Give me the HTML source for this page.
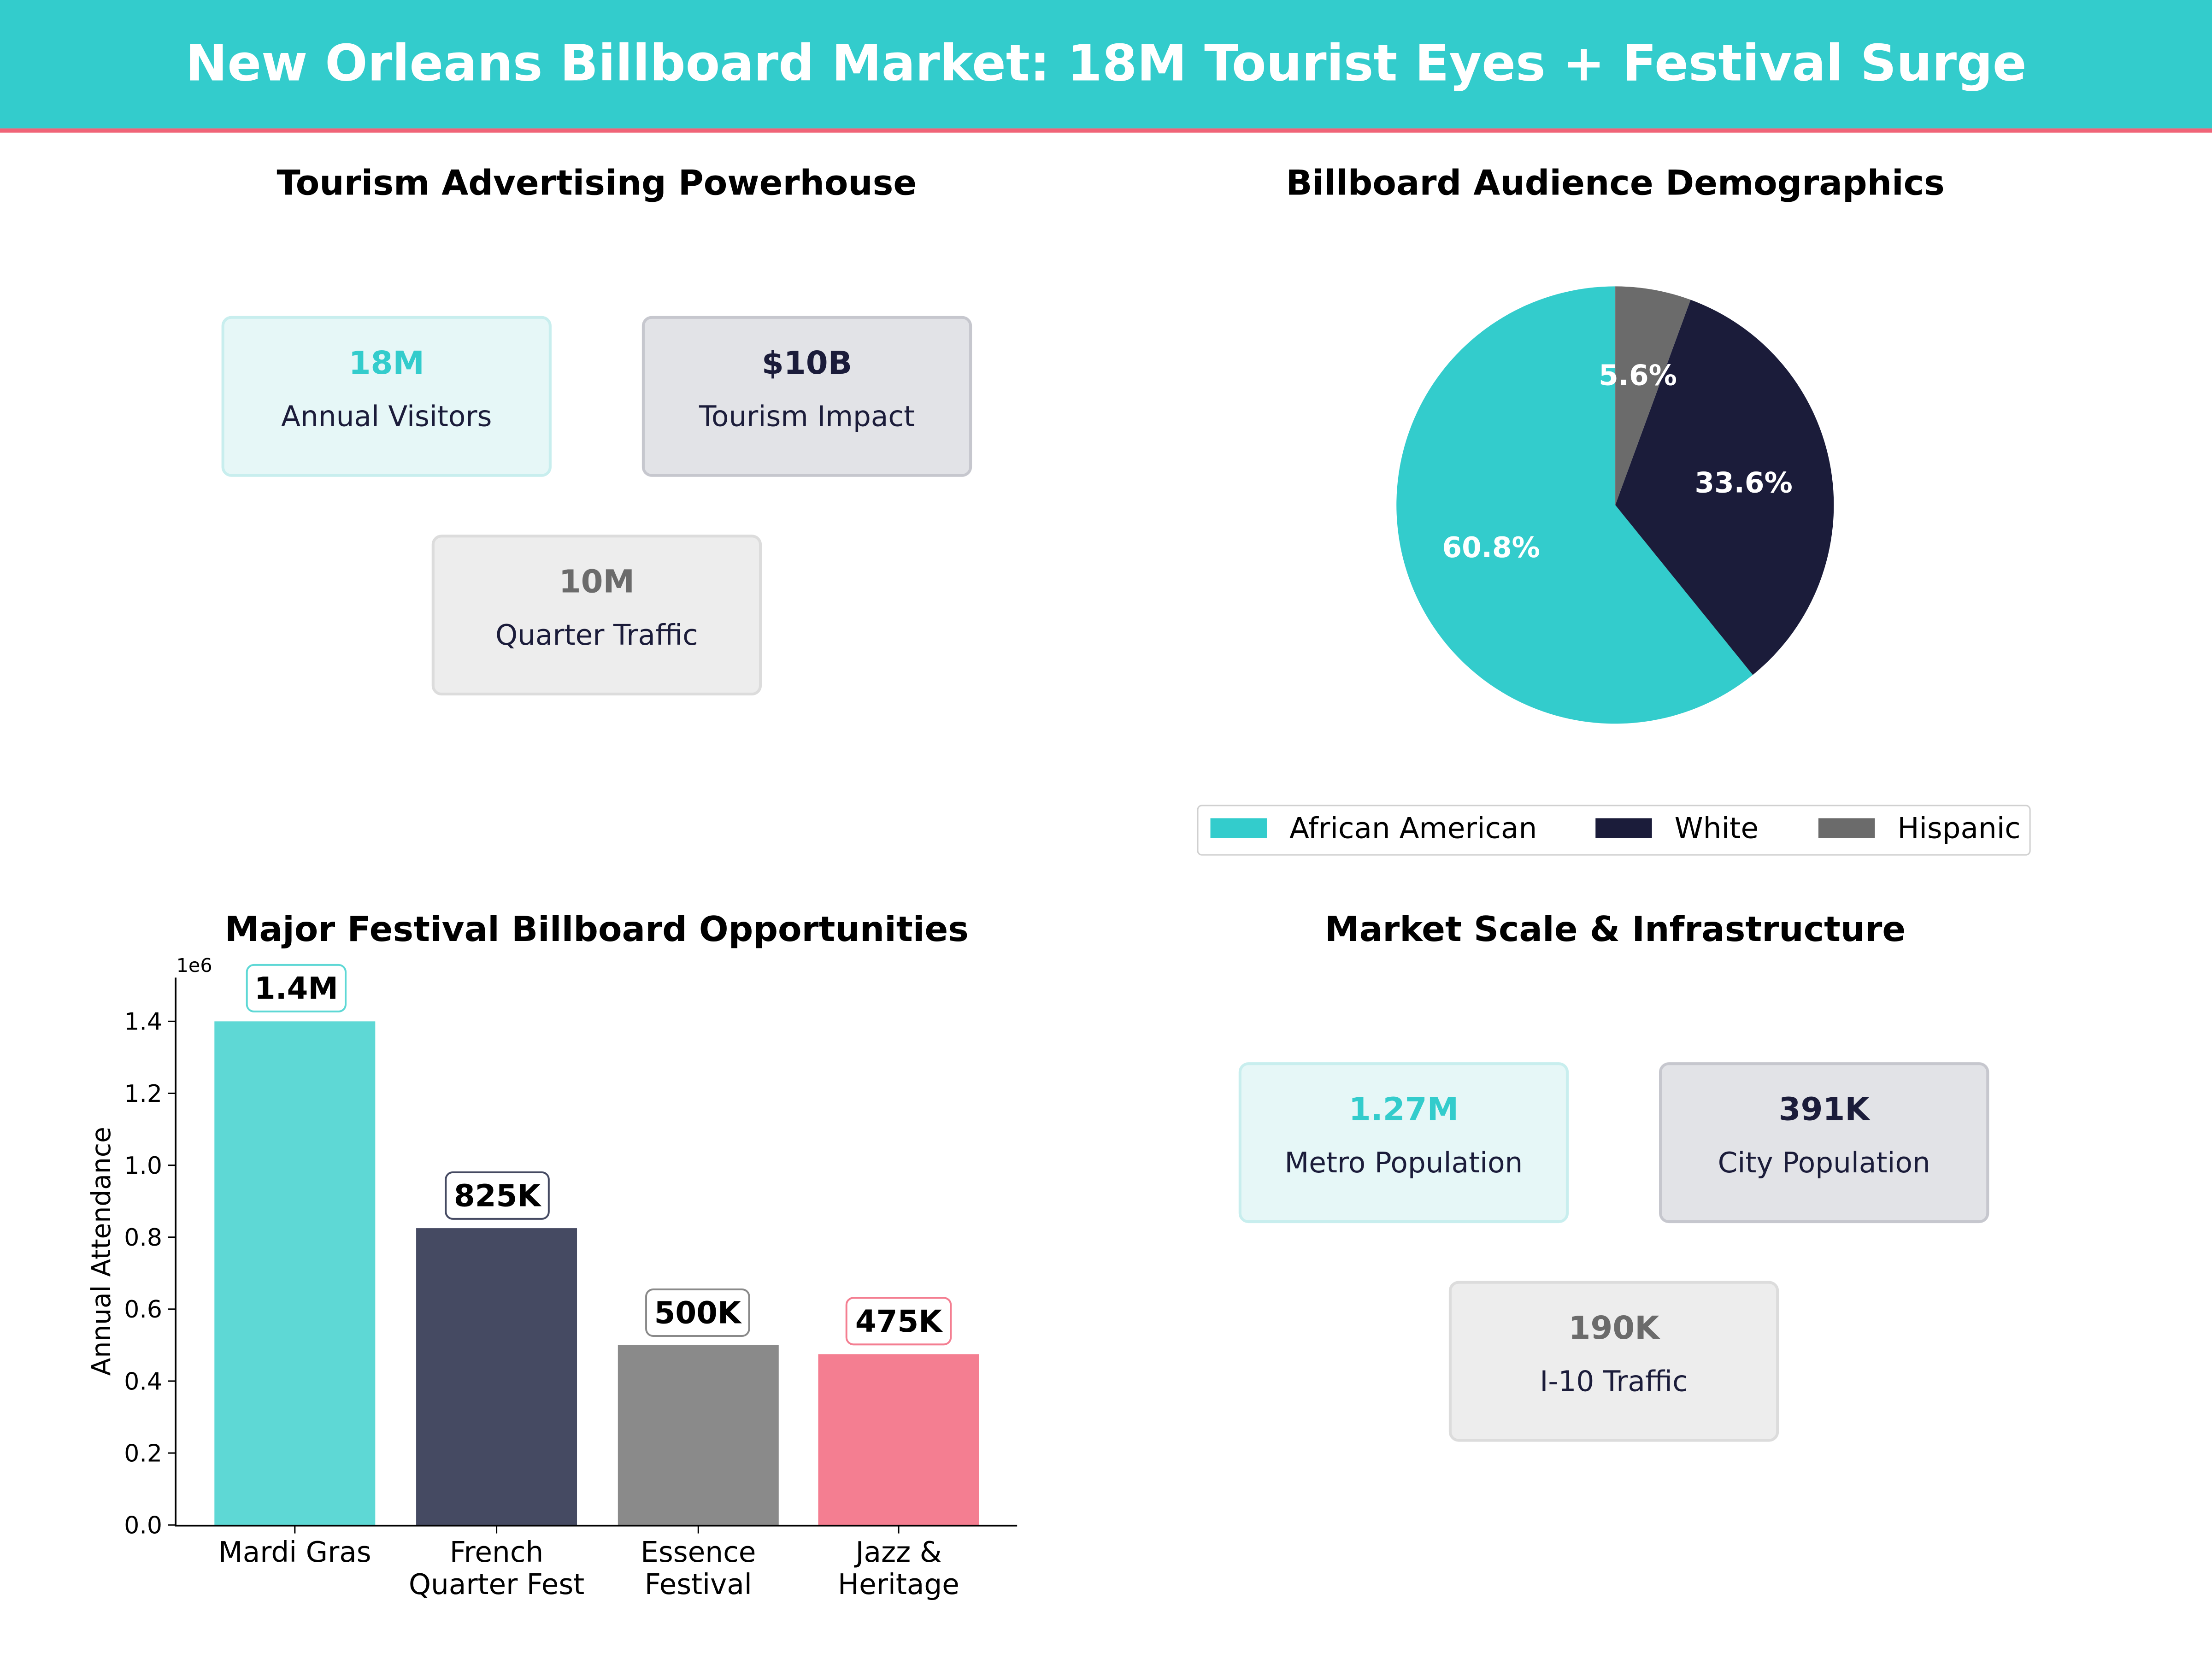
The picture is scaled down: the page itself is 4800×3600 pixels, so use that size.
<!DOCTYPE html>
<html><head><meta charset="utf-8"><style>
html,body{margin:0;padding:0;background:#fff;}
svg{display:block;}
text{font-family:"DejaVu Sans","Liberation Sans",sans-serif;}
</style></head><body>
<svg width="4800" height="3600" viewBox="0 0 1568 1176" xmlns="http://www.w3.org/2000/svg">
<rect width="1568" height="1176" fill="#fff"/>
<rect x="0" y="0" width="1568" height="91" fill="#33CCCC"/>
<rect x="0" y="91" width="1568" height="3" fill="#F06478"/>
<text x="784" y="57" fill="#fff" font-size="35.5" font-weight="bold" text-anchor="middle">New Orleans Billboard Market: 18M Tourist Eyes + Festival Surge</text>

<g font-size="24.5" font-weight="bold" text-anchor="middle" fill="#000">
<text x="423" y="138">Tourism Advertising Powerhouse</text>
<text x="1145" y="138">Billboard Audience Demographics</text>
<text x="423" y="667">Major Festival Billboard Opportunities</text>
<text x="1145" y="667">Market Scale &amp; Infrastructure</text>
</g>

<g text-anchor="middle">
<rect x="158" y="225" width="232" height="112" rx="6" fill="#E6F7F7" stroke="#C8EEEE" stroke-width="2"/>
<text x="274" y="265" font-size="22.5" font-weight="bold" fill="#33CCCC">18M</text>
<text x="274" y="302" font-size="20" fill="#1B1C3A">Annual Visitors</text>
<rect x="456" y="225" width="232" height="112" rx="6" fill="#E2E3E7" stroke="#C6C7CE" stroke-width="2"/>
<text x="572" y="265" font-size="22.5" font-weight="bold" fill="#1B1C3A">$10B</text>
<text x="572" y="302" font-size="20" fill="#1B1C3A">Tourism Impact</text>
<rect x="307" y="380" width="232" height="112" rx="6" fill="#EDEDED" stroke="#DCDCDC" stroke-width="2"/>
<text x="423" y="420" font-size="22.5" font-weight="bold" fill="#6B6B6B">10M</text>
<text x="423" y="457" font-size="20" fill="#1B1C3A">Quarter Traffic</text>

<rect x="879" y="754" width="232" height="112" rx="6" fill="#E6F7F7" stroke="#C8EEEE" stroke-width="2"/>
<text x="995" y="794" font-size="22.5" font-weight="bold" fill="#33CCCC">1.27M</text>
<text x="995" y="831" font-size="20" fill="#1B1C3A">Metro Population</text>
<rect x="1177" y="754" width="232" height="112" rx="6" fill="#E2E3E7" stroke="#C6C7CE" stroke-width="2"/>
<text x="1293" y="794" font-size="22.5" font-weight="bold" fill="#1B1C3A">391K</text>
<text x="1293" y="831" font-size="20" fill="#1B1C3A">City Population</text>
<rect x="1028" y="909" width="232" height="112" rx="6" fill="#EDEDED" stroke="#DCDCDC" stroke-width="2"/>
<text x="1144" y="949" font-size="22.5" font-weight="bold" fill="#6B6B6B">190K</text>
<text x="1144" y="986" font-size="20" fill="#1B1C3A">I-10 Traffic</text>
</g>

<path d="M1145,358 L1145,203 A155,155 0 1,0 1242.5,478.4 Z" fill="#33CCCC"/>
<path d="M1145,358 L1242.5,478.4 A155,155 0 0,0 1198.4,212.5 Z" fill="#1B1C3A"/>
<path d="M1145,358 L1198.4,212.5 A155,155 0 0,0 1145,203 Z" fill="#6B6B6B"/>
<g font-size="20" font-weight="bold" fill="#fff" text-anchor="middle">
<text x="1057" y="395">60.8%</text>
<text x="1236" y="349">33.6%</text>
<text x="1161" y="273">5.6%</text>
</g>
<rect x="849" y="571" width="590" height="35" rx="3" fill="#fff" stroke="#D0D0D0" stroke-width="1"/>
<rect x="858" y="580" width="40" height="14" fill="#33CCCC"/>
<rect x="1131" y="580" width="40" height="14" fill="#1B1C3A"/>
<rect x="1289" y="580" width="40" height="14" fill="#6B6B6B"/>
<g font-size="20.5" fill="#000">
<text x="914" y="594">African American</text>
<text x="1187" y="594">White</text>
<text x="1345" y="594">Hispanic</text>
</g>

<rect x="152" y="724" width="114" height="357" fill="#5ED8D5"/>
<rect x="295" y="870.6" width="114" height="210.4" fill="#454A62"/>
<rect x="438" y="953.5" width="114" height="127.5" fill="#8A8A8A"/>
<rect x="580" y="959.9" width="114" height="121.1" fill="#F47E91"/>
<line x1="124.5" y1="693" x2="124.5" y2="1081.5" stroke="#000" stroke-width="1.2"/>
<line x1="124" y1="1081.5" x2="721" y2="1081.5" stroke="#000" stroke-width="1.2"/>
<g stroke="#000" stroke-width="1">
<line x1="119" y1="1081" x2="124" y2="1081"/><line x1="119" y1="1030" x2="124" y2="1030"/>
<line x1="119" y1="979" x2="124" y2="979"/><line x1="119" y1="928" x2="124" y2="928"/>
<line x1="119" y1="877" x2="124" y2="877"/><line x1="119" y1="826" x2="124" y2="826"/>
<line x1="119" y1="775" x2="124" y2="775"/><line x1="119" y1="724" x2="124" y2="724"/>
<line x1="209" y1="1082" x2="209" y2="1087"/><line x1="352" y1="1082" x2="352" y2="1087"/>
<line x1="495" y1="1082" x2="495" y2="1087"/><line x1="637" y1="1082" x2="637" y2="1087"/>
</g>
<g font-size="17" fill="#000" text-anchor="end">
<text x="115" y="1087">0.0</text><text x="115" y="1036">0.2</text>
<text x="115" y="985">0.4</text><text x="115" y="934">0.6</text>
<text x="115" y="883">0.8</text><text x="115" y="832">1.0</text>
<text x="115" y="781">1.2</text><text x="115" y="730">1.4</text>
</g>
<text x="125" y="689" font-size="13.5" fill="#000">1e6</text>
<text transform="translate(78,887) rotate(-90)" font-size="18.5" fill="#000" text-anchor="middle">Annual Attendance</text>
<g font-size="20" fill="#000" text-anchor="middle">
<text x="209" y="1107">Mardi Gras</text>
<text x="352" y="1107">French</text><text x="352" y="1130">Quarter Fest</text>
<text x="495" y="1107">Essence</text><text x="495" y="1130">Festival</text>
<text x="637" y="1107">Jazz &amp;</text><text x="637" y="1130">Heritage</text>
</g>
<g fill="#fff" stroke-width="1.3">
<rect x="175" y="684" width="70" height="33" rx="5" stroke="#5ED8D5"/>
<rect x="316" y="831" width="73" height="33" rx="5" stroke="#454A62"/>
<rect x="458" y="914" width="73" height="33" rx="5" stroke="#8A8A8A"/>
<rect x="600" y="920" width="74" height="33" rx="5" stroke="#F47E91"/>
</g>
<g font-size="21.5" font-weight="bold" fill="#000" text-anchor="middle">
<text x="210" y="708">1.4M</text>
<text x="352.5" y="855">825K</text>
<text x="494.5" y="938">500K</text>
<text x="637" y="944">475K</text>
</g>
</svg>
</body></html>
